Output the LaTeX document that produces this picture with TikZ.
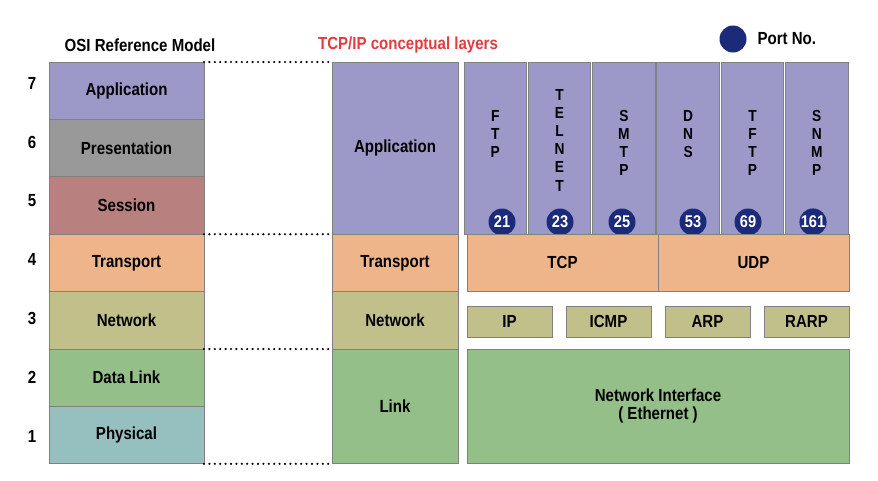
\documentclass[tikz,border=0pt]{standalone}
\usepackage{fontspec}
\setmainfont[FakeStretch=0.86]{Liberation Sans}
\usetikzlibrary{positioning}

\definecolor{edgec}{HTML}{808080}
\definecolor{appc}{HTML}{9C99C9}
\definecolor{presc}{HTML}{999999}
\definecolor{sessc}{HTML}{B98080}
\definecolor{transc}{HTML}{EFB58A}
\definecolor{netc}{HTML}{C1C08B}
\definecolor{dlc}{HTML}{94BF88}
\definecolor{phyc}{HTML}{96C0C0}
\definecolor{portc}{HTML}{1C2A7A}
\definecolor{titlec}{HTML}{E33B3F}

\newcommand{\lbl}{\fontsize{17.5}{20}\selectfont\bfseries}
\newcommand{\ltr}{\fontsize{16}{18.2}\selectfont\bfseries}

\tikzset{
  layer/.style={draw=edgec, line width=1pt, inner sep=0pt, outer sep=0pt,
    anchor=north west, font=\lbl},
  osibox/.style={layer, minimum width=155pt, minimum height=57.4pt},
  appcol/.style={layer, fill=appc, minimum width=62.5pt, minimum height=172.2pt},
  protobox/.style={layer, fill=netc, minimum width=85pt, minimum height=31pt},
  letters/.style={align=center, font=\ltr, inner sep=0pt},
  port/.style={circle, fill=portc, minimum size=27pt, inner sep=0pt,
    text=white, font=\fontsize{17}{17}\selectfont\bfseries},
  dots/.style={line width=2.4pt, line cap=round, dash pattern=on 0pt off 5.4pt}
}

\begin{document}
\begin{tikzpicture}[x=1pt,y=-1pt]
  \useasboundingbox (0,0) rectangle (878,480);

  % titles
  \node (osititle) [font=\lbl] at (140,45) {OSI Reference Model};
  \node (tcptitle) [font=\lbl, text=titlec] at (408,45) {TCP/IP conceptual layers};
  \node (legend) [port] at (733,39) {};
  \node (legendtxt) [font=\lbl, anchor=west] at (754,39) {Port No.};

  % OSI reference model
  \node (app)   [osibox, fill=appc]  at (49,62)       {Application};
  \node (pres)  [osibox, fill=presc, below=0pt of app]   {Presentation};
  \node (sess)  [osibox, fill=sessc, below=0pt of pres]  {Session};
  \node (trans) [osibox, fill=transc, below=0pt of sess] {Transport};
  \node (net)   [osibox, fill=netc, below=0pt of trans]  {Network};
  \node (dl)    [osibox, fill=dlc, below=0pt of net]     {Data Link};
  \node (phy)   [osibox, fill=phyc, below=0pt of dl]     {Physical};

  % layer numbers
  \foreach \n in {1,...,7}
    \node (num\n) [font=\lbl] at (32,{436-58.8*(\n-1)}) {\n};

  % TCP/IP conceptual layers
  \node (tapp)   [layer, fill=appc, minimum width=126pt, minimum height=172.2pt] at (332,62) {Application};
  \node (ttrans) [layer, fill=transc, minimum width=126pt, minimum height=57.4pt, below=0pt of tapp] {Transport};
  \node (tnet)   [layer, fill=netc, minimum width=126pt, minimum height=57.4pt, below=0pt of ttrans] {Network};
  \node (tlink)  [layer, fill=dlc, minimum width=126pt, minimum height=114.8pt, below=0pt of tnet] {Link};

  % dotted mapping
  \draw[dots] (app.north east)   -- (tapp.north west);
  \draw[dots] (trans.north east) -- (ttrans.north west);
  \draw[dots] (dl.north east)    -- (tlink.north west);
  \draw[dots] (phy.south east)   -- (tlink.south west);

  % application protocols
  \node (ftp)    [appcol] at (464,62) {};
  \node (telnet) [appcol, right=1.8pt of ftp] {};
  \node (smtp)   [appcol, right=1.8pt of telnet] {};
  \node (dns)    [appcol, right=1.8pt of smtp] {};
  \node (tftp)   [appcol, right=1.8pt of dns] {};
  \node (snmp)   [appcol, right=1.8pt of tftp] {};

  \node (ftpname)    [letters] at ([yshift=14pt]ftp.center)    {F\\T\\P};
  \node (telnetname) [letters] at ([yshift=8pt]telnet.center)  {T\\E\\L\\N\\E\\T};
  \node (smtpname)   [letters] at ([yshift=5pt]smtp.center)    {S\\M\\T\\P};
  \node (dnsname)    [letters] at ([yshift=14pt]dns.center)    {D\\N\\S};
  \node (tftpname)   [letters] at ([yshift=5pt]tftp.center)    {T\\F\\T\\P};
  \node (snmpname)   [letters] at ([yshift=5pt]snmp.center)    {S\\N\\M\\P};

  % port numbers
  \node (p21)  [port] at (502,222) {21};
  \node (p23)  [port] at (560,222) {23};
  \node (p25)  [port] at (622,222) {25};
  \node (p53)  [port] at (693,222) {53};
  \node (p69)  [port] at (748,222) {69};
  \node (p161) [port] at (813,222) {161};

  % transport protocols
  \node (tcp) [layer, fill=transc, minimum width=191pt, minimum height=57.4pt] at (467,234.2) {TCP};
  \node (udp) [layer, fill=transc, minimum width=191pt, minimum height=57.4pt, right=0pt of tcp] {UDP};

  % internet protocols
  \node (ip)   [protobox] at (467,306) {IP};
  \node (icmp) [protobox, right=14pt of ip]   {ICMP};
  \node (arp)  [protobox, right=14pt of icmp] {ARP};
  \node (rarp) [protobox, right=14pt of arp]  {RARP};

  % link
  \node (nif) [layer, fill=dlc, minimum width=382pt, minimum height=114.8pt, align=center,
    font=\fontsize{17.5}{18}\selectfont\bfseries] at (467,349) {Network Interface\\( Ethernet )};
\end{tikzpicture}
\end{document}
